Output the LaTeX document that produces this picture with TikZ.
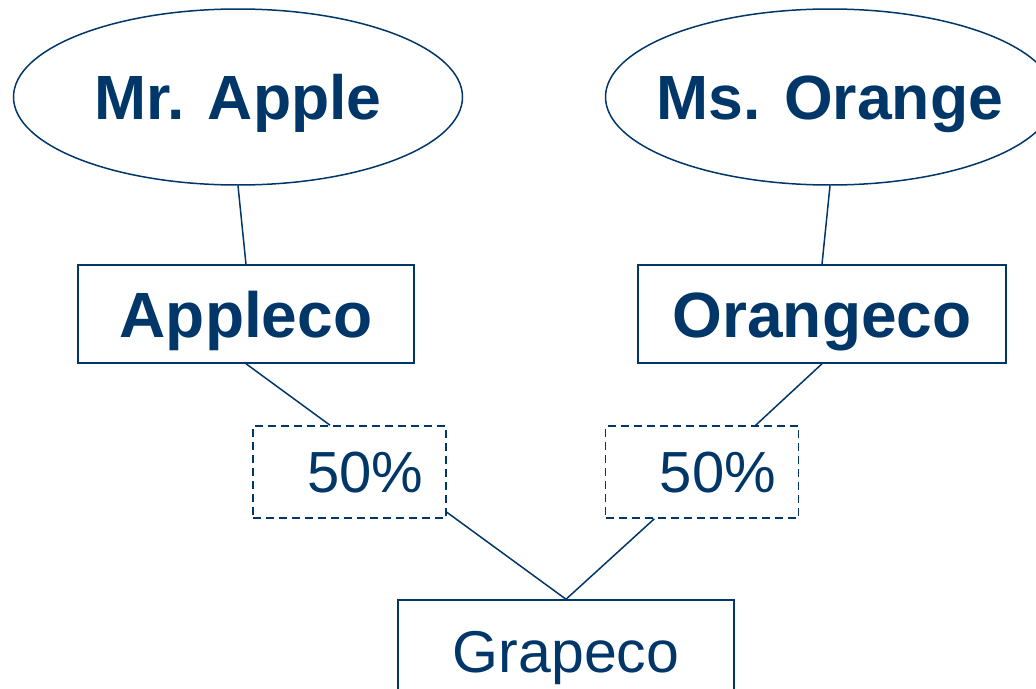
\documentclass[tikz,border=0pt]{standalone}
\usepackage{fontspec}
\setmainfont{Liberation Sans}
\usetikzlibrary{shapes.geometric,calc}
\definecolor{navy}{RGB}{0,54,104}
\begin{document}
\begin{tikzpicture}[x=1pt,y=-1pt,
  base/.style={draw=navy,line width=1.5pt,text=navy,inner sep=0pt},
  person/.style={base,ellipse,inner xsep=-25pt,minimum width=449pt,minimum height=176pt,
    font=\fontsize{62.5}{70}\selectfont\bfseries,text height=45pt,text depth=0pt},
  company/.style={base,rectangle,minimum height=98pt,
    font=\fontsize{64}{70}\selectfont\bfseries,text height=46pt,text depth=0pt},
  plain/.style={base,rectangle,minimum height=98pt,
    font=\fontsize{59}{66}\selectfont,text height=42pt,text depth=0pt},
  share/.style={base,rectangle,dash pattern=on 8pt off 5pt,minimum width=193pt,minimum height=92pt,
    font=\fontsize{58}{62}\selectfont,text height=41pt,text depth=0pt},
  link/.style={draw=navy,line width=1.5pt}]
\clip (0,0) rectangle (1036,688);
\node[person] (mrapple) at (238,97) {Mr. Apple};
\node[person] (msorange) at (830,97) {Ms. Orange};
\node[company,minimum width=336pt] (appleco) at (246,314) {Appleco};
\node[company,minimum width=368pt] (orangeco) at (822,314) {Orangeco};
\node[share] (s1) at (349.5,472) {\hspace*{32pt}50\%};
\node[share] (s2) at (702,472) {\hspace*{32pt}50\%};
\node[plain,minimum width=336pt,text height=46pt] (grapeco) at (566,649) {Grapeco};
\draw[link] (mrapple.south) -- (appleco.north);
\draw[link] (msorange.south) -- (orangeco.north);
\draw[link] (appleco.south) -- ($(s1.north west)!0.4!(s1.north east)$);
\draw[link] (orangeco.south) -- ($(s2.north west)!0.776!(s2.north east)$);
\draw[link] ($(s1.north east)!0.93!(s1.south east)$) -- (grapeco.north);
\draw[link] ($(s2.south west)!0.255!(s2.south east)$) -- (grapeco.north);
\end{tikzpicture}
\end{document}
